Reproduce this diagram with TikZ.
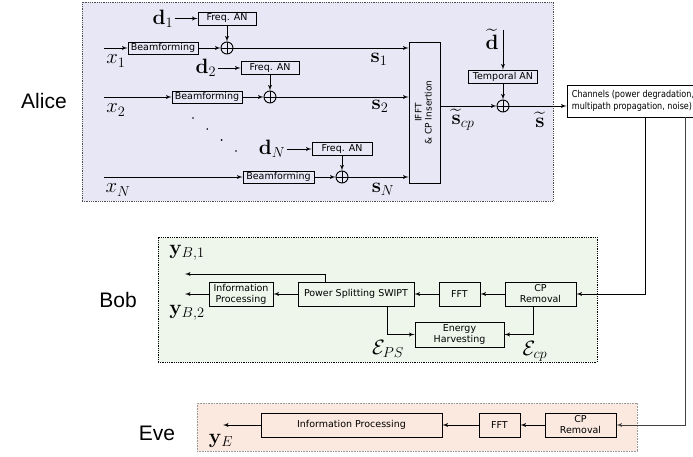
\documentclass[tikz,border=0pt]{standalone}
\usepackage{amsmath}
\usepackage{amssymb}
\usepackage[no-math]{fontspec}
\setmainfont{DejaVu Sans}
\newfontfamily\partyfont{Liberation Sans}
\newfontfamily\chanfont[FakeStretch=0.85]{DejaVu Sans}
\usetikzlibrary{arrows,positioning,calc}
\definecolor{alicebg}{RGB}{231,231,245}
\definecolor{bobbg}{RGB}{238,246,236}
\definecolor{evebg}{RGB}{251,233,224}
\tikzset{
block/.style = {draw, rectangle, line width=0.9pt, inner sep=0pt, align=center, font=\fontsize{9.5}{11}\selectfont},
sum/.style = {draw, circle, line width=0.9pt, minimum size=12pt, inner sep=0pt,
  path picture={\draw [line width=0.9pt] (path picture bounding box.north) -- (path picture bounding box.south)
  (path picture bounding box.west) -- (path picture bounding box.east);}},
tmp/.style = {coordinate},
zone/.style = {draw, densely dotted, line width=0.8pt, rectangle, inner sep=0pt},
party/.style = {font=\partyfont\fontsize{21}{24}\selectfont},
lbl/.style = {inner sep=1pt, font=\fontsize{20}{24}\selectfont}
}

\begin{document}
\begin{tikzpicture}[x=1pt, y=-1pt, >=latex', node distance=64pt, line width=0.9pt]
  \useasboundingbox (0,0) rectangle (693,457);
  % zones
  \node [zone, draw=black!70, fill=alicebg, minimum width=471pt, minimum height=199pt] (alicezone) at (317.5,101.5) {};
  \node [zone, fill=bobbg, minimum width=439pt, minimum height=125pt]                     (bobzone)   at (377.5,299.5) {};
  \node [zone, draw=black!40, line width=0.6pt, fill=evebg, minimum width=440pt, minimum height=48pt] (evezone) at (417,427) {};
  \node [party] (alice) at (44,101)  {Alice};
  \node [party] (bob)   at (118,300) {Bob};
  \node [party] (eve)   at (157,433) {Eve};

  % Alice, subcarrier rows
  \node [tmp] (in1) at (104,48) {};
  \node [block, minimum width=70pt, minimum height=12pt] (bf1) at (163,48) {Beamforming};
  \node [sum, right of=bf1]                                                   (sum1) {};
  \node [block, above of=sum1, node distance=29.5pt, minimum width=58pt, minimum height=13pt] (fan1) {Freq. AN};
  \node [lbl, left of=fan1]                                                   (d1)   {$\mathbf{d}_1$};
  \node [lbl] (x1) at (116,61)  {$x_1$};
  \node [lbl] (s1) at (379,59)  {$\mathbf{s}_1$};

  \node [tmp] (in2) at (104,97) {};
  \node [block, minimum width=70pt, minimum height=12pt] (bf2) at (207,97) {Beamforming};
  \node [sum, right of=bf2, node distance=63pt]                               (sum2) {};
  \node [block, above of=sum2, node distance=29pt, minimum width=58pt, minimum height=13pt] (fan2) {Freq. AN};
  \node [lbl, left of=fan2]                                                   (d2)   {$\mathbf{d}_2$};
  \node [lbl] (x2) at (116,110) {$x_2$};
  \node [lbl] (s2) at (380,106) {$\mathbf{s}_2$};

  \node [tmp] (in3) at (104,177) {};
  \node [block, minimum width=71pt, minimum height=12pt] (bfN) at (278.5,177) {Beamforming};
  \node [sum, right of=bfN, node distance=63.5pt]                             (sumN) {};
  \node [block, above of=sumN, node distance=28pt, minimum width=60pt, minimum height=13pt] (fanN) {Freq. AN};
  \node [lbl, left of=fanN, node distance=70pt]                               (dN)   {$\mathbf{d}_N$};
  \node [lbl] (xN) at (118,190) {$x_N$};
  \node [lbl] (sN) at (383,189) {$\mathbf{s}_N$};

  \foreach \i in {0,...,3}
    \fill ({193+14.3*\i},{118+11*\i}) circle (0.9pt);

  \node [block, minimum width=31pt, minimum height=141pt, font=\fontsize{9}{10}\selectfont] (ifft) at (424.5,112.5)
        {\rotatebox{90}{\begin{tabular}{@{}c@{}}IFFT\\\& CP Insertion\end{tabular}}};

  % temporal AN and channel
  \node [sum] (sum0) at (503,106) {};
  \node [block, above of=sum0, node distance=29.5pt, minimum width=69pt, minimum height=13pt] (tan) {Temporal AN};
  \coordinate (dtop) at (503,30);
  \node [lbl] (dt)  at (492,39)  {$\widetilde{\mathbf{d}}$};
  \node [lbl] (scp) at (463,120) {$\widetilde{\mathbf{s}}_{cp}$};
  \node [lbl] (st)  at (540,120) {$\widetilde{\mathbf{s}}$};
  \node [block, font=\chanfont\fontsize{9.5}{12}\selectfont, align=left, minimum width=132pt, minimum height=32pt] (chan) at (633,101)
        {Channels (power degradation,\\multipath propagation, noise)};

  \draw [->] (in1) -- (bf1);
  \draw [->] (bf1) -- (sum1);
  \draw [->] (d1) -- (fan1);
  \draw [->] (fan1) -- (sum1);
  \draw [->] (sum1) -- (sum1 -| ifft.west);
  \draw [->] (in2) -- (bf2);
  \draw [->] (bf2) -- (sum2);
  \draw [->] (d2) -- (fan2);
  \draw [->] (fan2) -- (sum2);
  \draw [->] (sum2) -- (sum2 -| ifft.west);
  \draw [->] (in3) -- (bfN);
  \draw [->] (bfN) -- (sumN);
  \draw [->] (dN) -- (fanN);
  \draw [->] (fanN) -- (sumN);
  \draw [->] (sumN) -- (sumN -| ifft.west);
  \draw [->] (sum0 -| ifft.east) -- (sum0);
  \draw [->] (dtop) -- (tan);
  \draw [->] (tan) -- (sum0);
  \draw [->] (sum0) -- (sum0 -| chan.west);

  % Bob
  \node [block, minimum width=71pt, minimum height=24pt] (cprB) at (540.5,294) {CP\\Removal};
  \node [block, left of=cprB, node distance=81pt, minimum width=41pt, minimum height=24pt]     (fftB)  {FFT};
  \node [block, left of=fftB, node distance=103.5pt, minimum width=116pt, minimum height=24pt] (psB)   {Power Splitting SWIPT};
  \node [block, left of=psB, node distance=115pt, minimum width=64pt, minimum height=24pt]     (infoB) {Information\\Processing};
  \node [block, below of=fftB, node distance=40.5pt, minimum width=89pt, minimum height=25pt]  (ehB)   {Energy\\Harvesting};
  \coordinate (yB1end) at (185,274);
  \coordinate (yB2end) at (185,294);
  \node [lbl] (yB1) at (187,253) {$\mathbf{y}_{B,1}$};
  \node [lbl] (yB2) at (187,313) {$\mathbf{y}_{B,2}$};
  \node [lbl] (ePS) at (388,349) {$\mathcal{E}_{PS}$};
  \node [lbl] (eCP) at (535,351) {$\mathcal{E}_{cp}$};
  \coordinate (tapB) at ($(chan.south)+(12,0)$);

  \draw [->] (tapB) |- (cprB);
  \draw [->] (cprB) -- (fftB);
  \draw [->] (fftB) -- (psB);
  \draw [->] (psB) -- (infoB);
  \draw [->] (infoB) -- (yB2end);
  \draw [->] ($(psB.north)+(-31,0)$) |- (yB1end);
  \draw [->] ($(psB.south)+(31,0)$) |- (ehB);
  \draw [->] ($(cprB.south)+(-7.5,0)$) |- (ehB);

  % Eve
  \node [block, minimum width=71pt, minimum height=24pt] (cprE) at (580.5,425) {CP\\Removal};
  \node [block, left of=cprE, node distance=81pt, minimum width=41pt, minimum height=24pt]   (fftE)  {FFT};
  \node [block, left of=fftE, node distance=148pt, minimum width=181pt, minimum height=24pt] (infoE) {Information Processing};
  \coordinate (yEend) at (223,425);
  \node [lbl] (yE) at (221,441) {$\mathbf{y}_E$};
  \coordinate (tapE) at ($(chan.south)+(52,0)$);

  \draw [->, black!75] (tapE) |- (cprE);
  \draw [->] (cprE) -- (fftE);
  \draw [->] (fftE) -- (infoE);
  \draw [->] (infoE) -- (yEend);
\end{tikzpicture}
\end{document}
